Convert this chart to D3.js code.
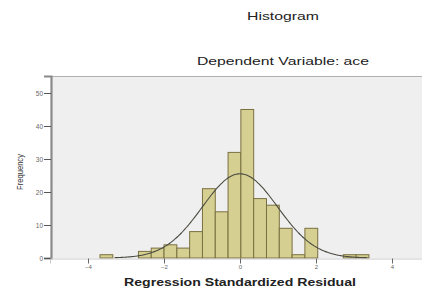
<!DOCTYPE html>
<html><head><meta charset="utf-8">
<script src="https://cdn.jsdelivr.net/npm/d3@7/dist/d3.min.js"></script>
<style>body{margin:0;background:#fff}svg{display:block}</style>
</head><body>
<script>
// Data
const binStart = -3.684;           // left edge of first bin (standardized residual)
const binWidth = 0.337;
const counts = [1,0,0,2,3,4,3,8,21,14,32,45,18,16,9,1,9,0,0,1,1];
const xTicks = [-4,-2,0,2,4];
const yTicks = [0,10,20,30,40,50];
const curveMean = 0, curveSd = 0.99, curveN = 188;
const curveRange = [-3.3, 3.35];

const W = 422, H = 291;
const svg = d3.select("body").append("svg").attr("width", W).attr("height", H)
  .style("font-family", "Arial, 'Liberation Sans', sans-serif");

const x = d3.scaleLinear().domain([-5, 5]).range([50, 430]);
const y = d3.scaleLinear().domain([0, 55.15]).range([258, 76]);

// plot background
svg.append("rect").attr("x", 51).attr("y", 76).attr("width", W - 51).attr("height", 182)
  .attr("fill", "#efefef");
svg.append("line").attr("x1", 51).attr("x2", W).attr("y1", 76.5).attr("y2", 76.5)
  .attr("stroke", "#b0b0b0").attr("stroke-width", 1);

// bars
const bins = counts.map((c, i) => ({x0: binStart + i * binWidth, x1: binStart + (i + 1) * binWidth, c}));
svg.append("g").selectAll("rect").data(bins.filter(d => d.c > 0)).join("rect")
  .attr("x", d => x(d.x0)).attr("width", d => x(d.x1) - x(d.x0))
  .attr("y", d => y(d.c)).attr("height", d => y(0) - y(d.c))
  .attr("fill", "#d5d092").attr("stroke", "#7a7040").attr("stroke-width", 1);

// normal curve
const pts = d3.range(curveRange[0], curveRange[1] + 0.001, 0.05).map(v => {
  const z = (v - curveMean) / curveSd;
  return [v, curveN * binWidth * Math.exp(-0.5 * z * z) / (curveSd * Math.sqrt(2 * Math.PI))];
});
svg.append("path").datum(pts)
  .attr("d", d3.line().x(d => x(d[0])).y(d => y(d[1])).curve(d3.curveBasis))
  .attr("fill", "none").attr("stroke", "#4a4a40").attr("stroke-width", 1.1);

// y axis
const ya = svg.append("g").attr("transform", "translate(51,0)")
  .call(d3.axisLeft(y).tickValues(yTicks).tickSize(7).tickPadding(1));
ya.select(".domain").attr("stroke", "#8a8a8a").attr("stroke-width", 2.2);
ya.selectAll(".tick line").attr("stroke", "#555");
ya.selectAll("text").attr("font-size", 6.5).attr("fill", "#666");

// x axis
const xa = svg.append("g").attr("transform", "translate(0,258.5)")
  .call(d3.axisBottom(x).tickValues(xTicks).tickSize(5).tickPadding(1).tickFormat(d3.format("d")));
xa.select(".domain").attr("stroke", "#c8c8c8").attr("stroke-width", 1);
xa.selectAll(".tick line").attr("stroke", "#666");
xa.selectAll("text").attr("font-size", 6).attr("fill", "#666");

// titles
svg.append("text").attr("x", 283).attr("y", 20).attr("text-anchor", "middle")
  .attr("font-size", 10.5).attr("fill", "#222")
  .attr("textLength", 72).attr("lengthAdjust", "spacingAndGlyphs").text("Histogram");
svg.append("text").attr("x", 283).attr("y", 65).attr("text-anchor", "middle")
  .attr("font-size", 11).attr("fill", "#222")
  .attr("textLength", 172).attr("lengthAdjust", "spacingAndGlyphs").text("Dependent Variable: ace");
svg.append("text").attr("x", 240).attr("y", 286).attr("text-anchor", "middle")
  .attr("font-size", 11.5).attr("font-weight", "bold").attr("fill", "#222")
  .attr("textLength", 232).attr("lengthAdjust", "spacingAndGlyphs").text("Regression Standardized Residual");
svg.append("text").attr("transform", "translate(23,172) rotate(-90)").attr("text-anchor", "middle")
  .attr("font-size", 8.5).attr("fill", "#333")
  .attr("textLength", 36).attr("lengthAdjust", "spacingAndGlyphs").text("Frequency");
</script>
</body></html>
